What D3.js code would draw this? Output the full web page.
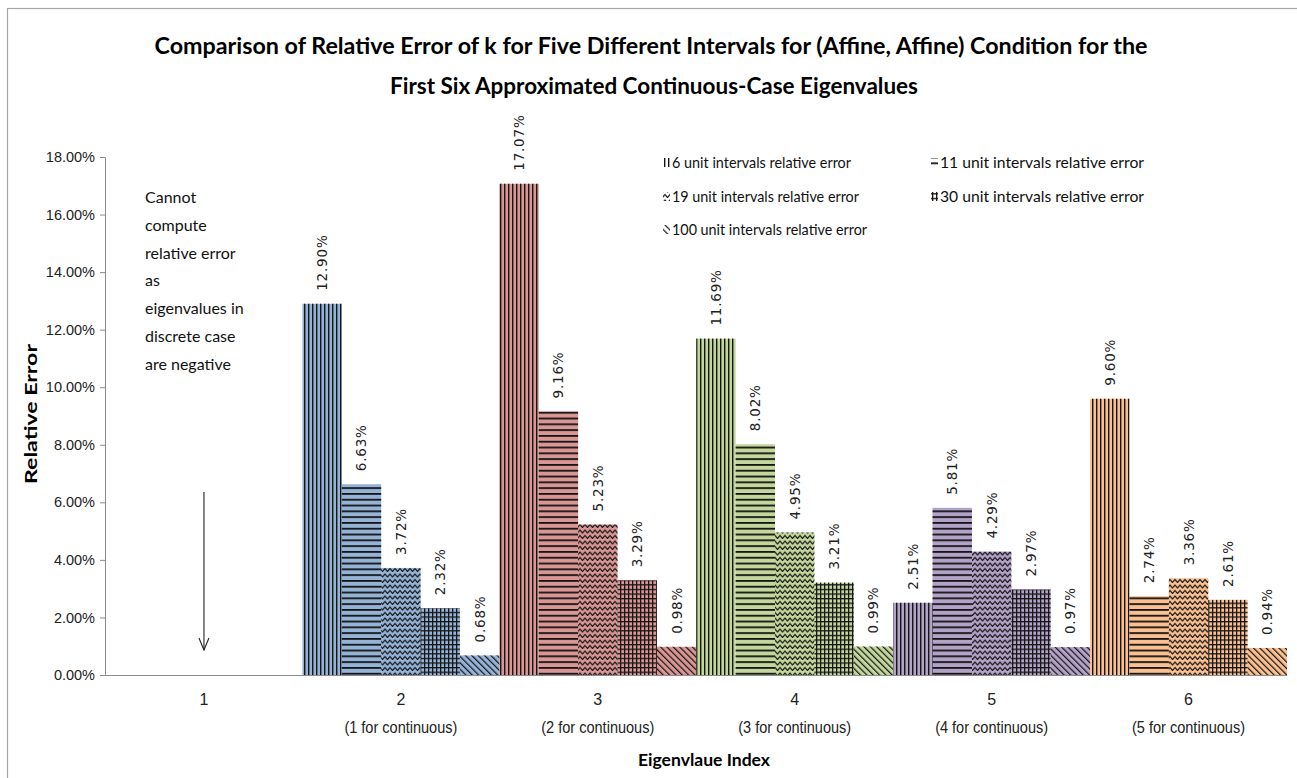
<!DOCTYPE html>
<html>
<head>
<meta charset="utf-8">
<script src="https://cdn.jsdelivr.net/npm/d3@7"></script>
<style>
  html, body { margin: 0; padding: 0; background: #fff; }
  svg { display: block; }
</style>
</head>
<body>
<svg id="chart" width="1297" height="778"></svg>
<script>
// ---- data ----
const categories = ["1", "2", "3", "4", "5", "6"];
const categoryNotes = ["", "(1 for continuous)", "(2 for continuous)", "(3 for continuous)", "(4 for continuous)", "(5 for continuous)"];
const seriesNames = [
  "6 unit intervals relative error",
  "11 unit intervals relative error",
  "19 unit intervals relative error",
  "30 unit intervals relative error",
  "100 unit intervals relative error"
];
// relative error in percent; eigenvalue 1 has no value
const err6   = [null, 12.90, 17.07, 11.69, 2.51, 9.60];
const err11  = [null, 6.63, 9.16, 8.02, 5.81, 2.74];
const err19  = [null, 3.72, 5.23, 4.95, 4.29, 3.36];
const err30  = [null, 2.32, 3.29, 3.21, 2.97, 2.61];
const err100 = [null, 0.68, 0.98, 0.99, 0.97, 0.94];
const yTicks = [0, 2, 4, 6, 8, 10, 12, 14, 16, 18];
const noteLines = ["Cannot", "compute", "relative error", "as", "eigenvalues in", "discrete case", "are negative"];

// ---- styling ----
const categoryColors = ["#95B3D7", "#95B3D7", "#D99694", "#C3D69B", "#B3A2C7", "#FAC090"];
const patternIds = ["pVert", "pHoriz", "pZig", "pGrid", "pDiag"];
const ink = "#151515";

const series = [err6, err11, err19, err30, err100];

const svg = d3.select("#chart");

// outer chart frame
svg.append("rect")
  .attr("x", 7.5).attr("y", 8.5)
  .attr("width", 1300).attr("height", 780)
  .attr("fill", "#fff").attr("stroke", "#a6a6a6").attr("stroke-width", 1.2);

// ---- hatch patterns ----
const defs = svg.append("defs");
function pattern(id, w, h, transform) {
  const p = defs.append("pattern").attr("id", id)
    .attr("patternUnits", "userSpaceOnUse")
    .attr("width", w).attr("height", h);
  if (transform) p.attr("patternTransform", transform);
  return p;
}
pattern("pVert", 4, 4).append("rect")
  .attr("x", 0).attr("y", 0).attr("width", 1.4).attr("height", 4).attr("fill", ink);
pattern("pHoriz", 4, 5.8).append("rect")
  .attr("x", 0).attr("y", 0).attr("width", 4).attr("height", 1.8).attr("fill", ink);
pattern("pZig", 5, 5.5).append("path")
  .attr("d", "M-1.25,3.5 L0,2 L2.5,5 L5,2 L6.25,3.5")
  .attr("fill", "none").attr("stroke", ink).attr("stroke-width", 1.2);
const g4 = pattern("pGrid", 4, 4.6);
g4.append("rect").attr("x", 0).attr("y", 0).attr("width", 1.3).attr("height", 4.6).attr("fill", ink);
g4.append("rect").attr("x", 0).attr("y", 0).attr("width", 4).attr("height", 1.3).attr("fill", ink);
pattern("pDiag", 4.5, 4.5, "rotate(-45)").append("rect")
  .attr("x", 0).attr("y", 0).attr("width", 1.2).attr("height", 4.5).attr("fill", ink);

// ---- scales ----
const x = d3.scaleBand().domain(categories).range([105.5, 1287]).paddingInner(0).paddingOuter(0);
const xs = d3.scaleBand().domain(d3.range(seriesNames.length)).range([0, x.bandwidth()]).padding(0);
const y = d3.scaleLinear().domain([0, 18]).range([675, 157]);

// ---- axes ----
const yAxis = svg.append("g")
  .attr("transform", "translate(105,0)")
  .call(d3.axisLeft(y).tickValues(yTicks).tickSize(5).tickPadding(5)
    .tickFormat(d => d.toFixed(2) + "%"));
yAxis.select(".domain").attr("stroke", "#8c8c8c");
yAxis.selectAll(".tick line").attr("stroke", "#8c8c8c");
yAxis.selectAll(".tick text")
  .attr("font-family", "'Liberation Sans', Arial, sans-serif")
  .attr("font-size", 14.5).attr("fill", "#222");

// ---- bars ----
const barData = [];
series.forEach((vals, si) => {
  vals.forEach((v, ci) => {
    if (v !== null) barData.push({ si, ci, v, cat: categories[ci] });
  });
});

const bars = svg.append("g");
bars.selectAll("rect.base").data(barData).join("rect")
  .attr("class", "base")
  .attr("x", d => x(d.cat) + xs(d.si))
  .attr("y", d => y(d.v))
  .attr("width", xs.bandwidth())
  .attr("height", d => y(0) - y(d.v))
  .attr("fill", d => categoryColors[d.ci]);
bars.selectAll("rect.hatch").data(barData).join("rect")
  .attr("class", "hatch")
  .attr("x", d => x(d.cat) + xs(d.si))
  .attr("y", d => y(d.v))
  .attr("width", xs.bandwidth())
  .attr("height", d => y(0) - y(d.v))
  .attr("fill", d => `url(#${patternIds[d.si]})`);

// x axis line drawn over bar bottoms
svg.append("line")
  .attr("x1", 105).attr("x2", 1287).attr("y1", y(0) + 0.5).attr("y2", y(0) + 0.5)
  .attr("stroke", "#8c8c8c").attr("stroke-width", 1.2);

// value labels, rotated
svg.append("g").selectAll("text").data(barData).join("text")
  .attr("transform", d => `translate(${x(d.cat) + xs(d.si) + xs.bandwidth() / 2 + 5},${y(d.v) - 13}) rotate(-90)`)
  .attr("text-anchor", "start")
  .attr("font-family", "'DejaVu Sans', Verdana, sans-serif")
  .attr("font-size", 13.5)
  .attr("letter-spacing", 0.8)
  .attr("fill", "#222")
  .text(d => d.v.toFixed(2) + "%");

// ---- category labels ----
const catG = svg.append("g")
  .attr("font-family", "'Liberation Sans Narrow', 'Arial Narrow', sans-serif")
  .attr("font-size", 16).attr("fill", "#222").attr("text-anchor", "middle");
catG.selectAll("text.cat").data(categories).join("text")
  .attr("class", "cat")
  .attr("x", d => x(d) + x.bandwidth() / 2)
  .attr("y", 705)
  .text(d => d);
catG.selectAll("text.note").data(categories).join("text")
  .attr("class", "note")
  .attr("x", d => x(d) + x.bandwidth() / 2)
  .attr("y", 733)
  .attr("textLength", (d, i) => categoryNotes[i] ? 113 : null)
  .attr("lengthAdjust", "spacingAndGlyphs")
  .text((d, i) => categoryNotes[i]);

// ---- titles ----
const titleFont = "Lato, 'Open Sans', sans-serif";
svg.append("text")
  .attr("x", 651).attr("y", 54).attr("text-anchor", "middle")
  .attr("font-family", titleFont).attr("font-weight", "bold").attr("font-size", 23)
  .attr("fill", "#000")
  .attr("textLength", 993).attr("lengthAdjust", "spacingAndGlyphs")
  .text("Comparison of Relative Error of k for Five Different Intervals  for (Affine, Affine) Condition  for the");
svg.append("text")
  .attr("x", 654).attr("y", 94).attr("text-anchor", "middle")
  .attr("font-family", titleFont).attr("font-weight", "bold").attr("font-size", 23)
  .attr("fill", "#000")
  .attr("textLength", 528).attr("lengthAdjust", "spacingAndGlyphs")
  .text("First Six Approximated Continuous-Case  Eigenvalues");

svg.append("text")
  .attr("transform", "translate(37,414) rotate(-90)")
  .attr("text-anchor", "middle")
  .attr("font-family", titleFont).attr("font-weight", "bold").attr("font-size", 17)
  .attr("textLength", 140).attr("lengthAdjust", "spacingAndGlyphs")
  .text("Relative Error");
svg.append("text")
  .attr("x", 704).attr("y", 766).attr("text-anchor", "middle")
  .attr("font-family", titleFont).attr("font-weight", "bold").attr("font-size", 17)
  .attr("textLength", 132).attr("lengthAdjust", "spacingAndGlyphs")
  .text("Eigenvlaue Index");

// ---- legend ----
const legendPos = [[663, 163], [931, 163], [663, 197], [931, 197], [663, 230]];
const legendWidths = [188, 213, 196, 213, 204];
const legend = svg.append("g");
seriesNames.forEach((name, i) => {
  const [lx, ly] = legendPos[i];
  legend.append("rect")
    .attr("x", lx).attr("y", ly - 5).attr("width", 7).attr("height", 9)
    .attr("fill", `url(#${patternIds[i]})`);
  legend.append("text")
    .attr("x", lx + 9).attr("y", ly + 5)
    .attr("font-family", titleFont).attr("font-size", 15).attr("fill", "#111")
    .attr("textLength", legendWidths[i] - 9).attr("lengthAdjust", "spacingAndGlyphs")
    .text(name);
});

// ---- annotation for eigenvalue 1 ----
const note = svg.append("text")
  .attr("font-family", titleFont).attr("font-size", 16).attr("fill", "#111");
note.selectAll("tspan").data(noteLines).join("tspan")
  .attr("x", 145)
  .attr("y", (d, i) => 203 + i * 27.8)
  .text(d => d);

const ax = x("1") + x.bandwidth() / 2;
svg.append("line")
  .attr("x1", ax).attr("x2", ax).attr("y1", 492).attr("y2", 650)
  .attr("stroke", "#222").attr("stroke-width", 1.1);
svg.append("path")
  .attr("d", `M${ax - 5},${638} L${ax},${650} L${ax + 5},${638}`)
  .attr("fill", "none").attr("stroke", "#222").attr("stroke-width", 1.1);
</script>
</body>
</html>
